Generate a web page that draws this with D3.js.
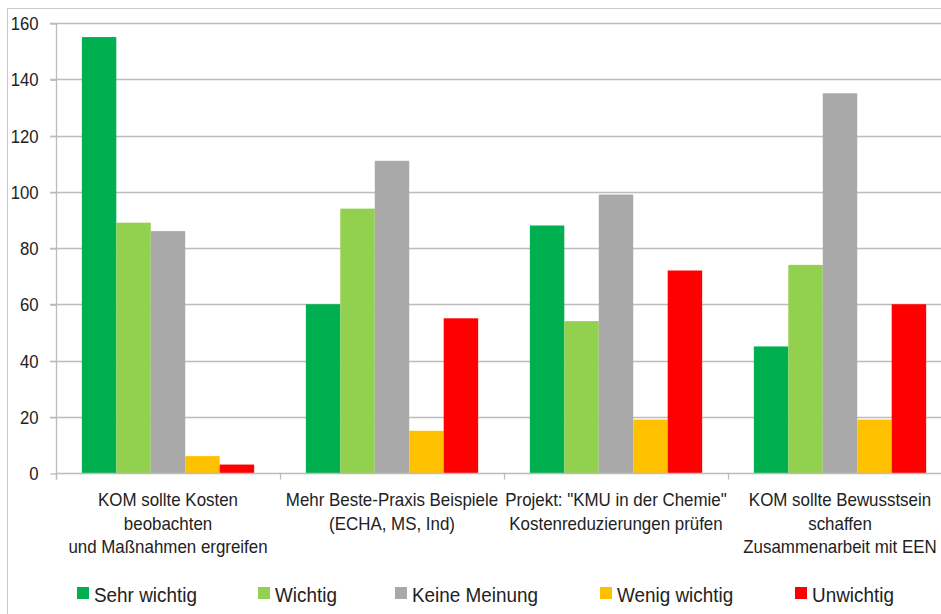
<!DOCTYPE html>
<html>
<head>
<meta charset="utf-8">
<script src="https://cdn.jsdelivr.net/npm/d3@7"></script>
<style>
  html, body { margin: 0; padding: 0; background: #fff; }
  svg { display: block; }
  text { font-family: "Liberation Sans", Arial, sans-serif; fill: #222; }
</style>
</head>
<body>
<svg id="chart" width="941" height="614"></svg>
<script>
// Survey answers per proposal
const categories = [
  ["KOM sollte Kosten", "beobachten", "und Maßnahmen ergreifen"],
  ["Mehr Beste-Praxis Beispiele", "(ECHA, MS, Ind)"],
  ["Projekt: \"KMU in der Chemie\"", "Kostenreduzierungen prüfen"],
  ["KOM sollte Bewusstsein", "schaffen", "Zusammenarbeit mit EEN"]
];
const seriesNames = ["Sehr wichtig", "Wichtig", "Keine Meinung", "Wenig wichtig", "Unwichtig"];
const seriesColors = ["#00B050", "#92D050", "#A9A9A9", "#FFC000", "#FF0000"];
const sehrWichtig  = [155, 60, 88, 45];
const wichtig      = [89, 94, 54, 74];
const keineMeinung = [86, 111, 99, 135];
const wenigWichtig = [6, 15, 19, 19];
const unwichtig    = [3, 55, 72, 60];
const seriesValues = [sehrWichtig, wichtig, keineMeinung, wenigWichtig, unwichtig];
const yTicks = [0, 20, 40, 60, 80, 100, 120, 140, 160];

const svg = d3.select("#chart");
const W = 941, H = 614;

// outer chart frame
svg.append("rect")
  .attr("x", 7.5).attr("y", 8.5)
  .attr("width", W).attr("height", H)
  .attr("fill", "none").attr("stroke", "#c8c8c8").attr("stroke-width", 1);

const plot = { left: 56, right: 952, top: 23, bottom: 473 };
const catIdx = d3.range(categories.length);

const x = d3.scaleBand().domain(catIdx).range([plot.left, plot.right]).paddingInner(0).paddingOuter(0);
const xs = d3.scaleBand().domain(d3.range(seriesNames.length)).range([0, x.bandwidth()])
  .paddingInner(0).paddingOuter(0.75);
const y = d3.scaleLinear().domain([0, 160]).range([plot.bottom, plot.top]);

// horizontal gridlines
svg.append("g").selectAll("line").data(yTicks.filter(t => t > 0)).join("line")
  .attr("x1", plot.left - 6).attr("x2", W)
  .attr("y1", d => Math.round(y(d)) + 0.5).attr("y2", d => Math.round(y(d)) + 0.5)
  .attr("stroke", "#bcbcbc").attr("stroke-width", 1.3);

// y axis (labels squeezed horizontally for a narrow look)
const yAxis = d3.axisLeft(y).tickValues(yTicks).tickSize(6).tickPadding(0).tickFormat(d3.format("d"));
const gy = svg.append("g").attr("transform", `translate(${plot.left + 0.5},0.5)`).call(yAxis);
gy.select(".domain").attr("stroke", "#bcbcbc").attr("stroke-width", 1.3)
  .attr("d", `M0,${plot.top}V${plot.bottom + 6}`);
gy.selectAll(".tick line").attr("stroke", "#bcbcbc").attr("stroke-width", 1.3);
gy.selectAll(".tick text").attr("font-size", 19).attr("fill", "#222")
  .attr("font-family", "Liberation Sans, Arial, sans-serif")
  .attr("x", 0)
  .attr("transform", "translate(-18,0) scale(0.88,1)");

// bars
const groups = svg.append("g").selectAll("g").data(catIdx).join("g")
  .attr("transform", d => `translate(${x(d)},0)`);
groups.selectAll("rect")
  .data(c => seriesValues.map((vals, s) => ({ s, v: vals[c] })))
  .join("rect")
  .attr("x", d => xs(d.s))
  .attr("width", xs.bandwidth())
  .attr("y", d => y(d.v))
  .attr("height", d => y(0) - y(d.v))
  .attr("fill", d => seriesColors[d.s]);

// x axis baseline and category ticks
const xAxis = d3.axisBottom(x).tickSize(0).tickFormat("");
const gx = svg.append("g").attr("transform", `translate(0,${plot.bottom + 0.5})`).call(xAxis);
gx.select(".domain").attr("stroke", "#bcbcbc").attr("stroke-width", 1.3)
  .attr("d", `M${plot.left},0H${W}`);
gx.selectAll(".tick").remove();
gx.selectAll("line.cat").data(catIdx).join("line").attr("class", "cat")
  .attr("x1", d => x(d) + 0.5).attr("x2", d => x(d) + 0.5)
  .attr("y1", 0).attr("y2", 6)
  .attr("stroke", "#bcbcbc").attr("stroke-width", 1.3);

// category labels, one text per line
const lines = catIdx.flatMap(c => categories[c].map((t, i) => ({ c, i, t })));
svg.append("g").selectAll("text").data(lines).join("text")
  .attr("text-anchor", "middle").attr("font-size", 18)
  .attr("transform", d => `translate(${x(d.c) + x.bandwidth() / 2},${506 + d.i * 23.5}) scale(0.94,1)`)
  .text(d => d.t);

// legend
const legendX = [77, 258, 395, 600, 795];
const legend = svg.append("g").selectAll("g").data(seriesNames).join("g")
  .attr("transform", (d, i) => `translate(${legendX[i]},587)`);
legend.append("rect").attr("width", 12).attr("height", 12)
  .attr("fill", (d, i) => seriesColors[i]);
legend.append("text").attr("font-size", 21)
  .attr("transform", "translate(17,14.5) scale(0.9,1)")
  .text(d => d);
</script>
</body>
</html>
